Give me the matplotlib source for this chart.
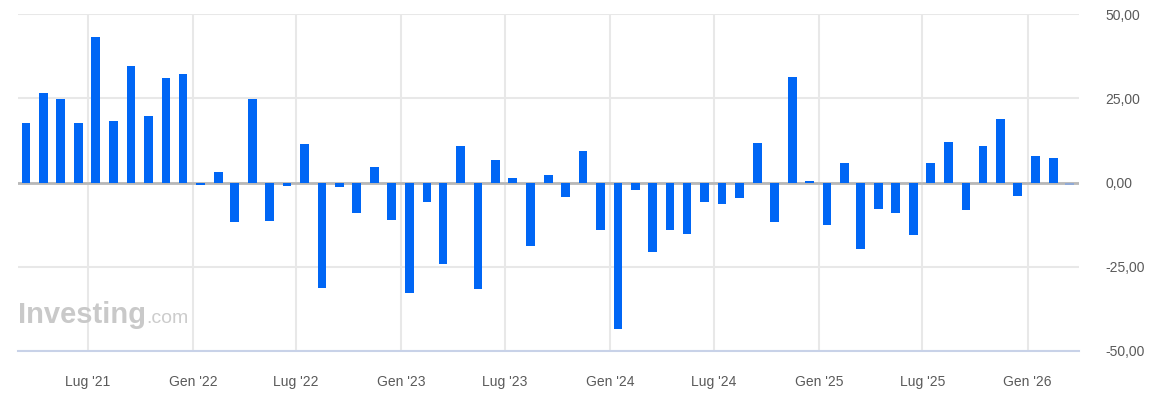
import numpy as np
import pandas as pd
import matplotlib
matplotlib.use("Agg")
import matplotlib.pyplot as plt
import matplotlib.dates as mdates
from matplotlib.ticker import FuncFormatter

# ========================
# Data (monthly values, Mar 2021 - Mar 2026)
# ========================
start_month = "2021-03-01"
values = [
    17.6, 26.5, 24.7, 17.6, 43.2, 18.3, 34.6, 19.8, 31.0, 32.1,          # 2021
    -0.6, 3.2, -11.8, 24.7, -11.3, -0.9, 11.4, -31.3, -1.3, -9.1, 4.7, -11.0,   # 2022
    -32.8, -5.7, -24.3, 10.9, -31.7, 6.8, 1.3, -18.7, 2.1, -4.2, 9.4, -14.2,    # 2023
    -43.6, -2.1, -20.7, -14.2, -15.4, -5.7, -6.5, -4.6, 11.7, -11.7, 31.4, 0.5, # 2024
    -12.5, 5.8, -19.8, -8.0, -9.1, -15.7, 5.8, 12.1, -8.3, 10.9, 18.8, -3.9,    # 2025
    8.0, 7.2, -0.6,                                                            # 2026
]
pending = [False] * (len(values) - 1) + [True]

tick_dates = ["2021-07-01", "2022-01-01", "2022-07-01", "2023-01-01", "2023-07-01",
              "2024-01-01", "2024-07-01", "2025-01-01", "2025-07-01", "2026-01-01"]
tick_labels = ["Lug '21", "Gen '22", "Lug '22", "Gen '23", "Lug '23",
               "Gen '24", "Lug '24", "Gen '25", "Lug '25", "Gen '26"]
y_ticks = [-50, -25, 0, 25, 50]

months = pd.date_range(start_month, periods=len(values), freq="MS")
bar_x = months + pd.Timedelta(days=14)
colors = ["#8fa9d6" if p else "#0066f5" for p in pending]

plt.rcParams["font.family"] = ["Liberation Sans", "DejaVu Sans"]

W, H = 1149, 404
fig = plt.figure(figsize=(W / 100, H / 100), dpi=100)
ax = fig.add_axes([18 / W, (H - 351) / H, (1079 - 18) / W, (351 - 14) / H])

ax.grid(True, color="#e8e8e8", linewidth=1.5, zorder=0)
ax.axhline(0, color="#b8b8b8", linewidth=2, zorder=2)
ax.bar(bar_x, values, width=15.3, color=colors, edgecolor="none", zorder=3)

ax.set_xlim(pd.Timestamp("2021-03-01"), pd.Timestamp("2026-04-01"))
ax.set_ylim(-50, 50)

ax.set_xticks(pd.to_datetime(tick_dates))
ax.set_xticklabels(tick_labels)
ax.set_yticks(y_ticks)
ax.yaxis.set_major_formatter(FuncFormatter(lambda v, _: f"{v:.2f}".replace(".", ",")))
ax.yaxis.tick_right()
ax.set_axisbelow(True)

for side in ["top", "left", "right"]:
    ax.spines[side].set_visible(False)
ax.spines["bottom"].set_color("#c8d2e8")
ax.spines["bottom"].set_linewidth(1.5)

ax.tick_params(axis="x", length=0, pad=17, labelsize=10, labelcolor="#5a5a5a")
ax.tick_params(axis="y", length=0, pad=19, labelsize=10, labelcolor="#5a5a5a")

# Watermark
wm = fig.text(18 / W, (H - 323) / H, "Investing", fontsize=21, fontweight="bold",
              color="#c9c9c9", va="baseline", ha="left")
fig.canvas.draw()
bb = wm.get_window_extent()
fig.text(bb.x1 / W, (H - 323) / H, ".com", fontsize=14, color="#cccccc",
         va="baseline", ha="left")

fig.savefig("out.png", dpi=100)
